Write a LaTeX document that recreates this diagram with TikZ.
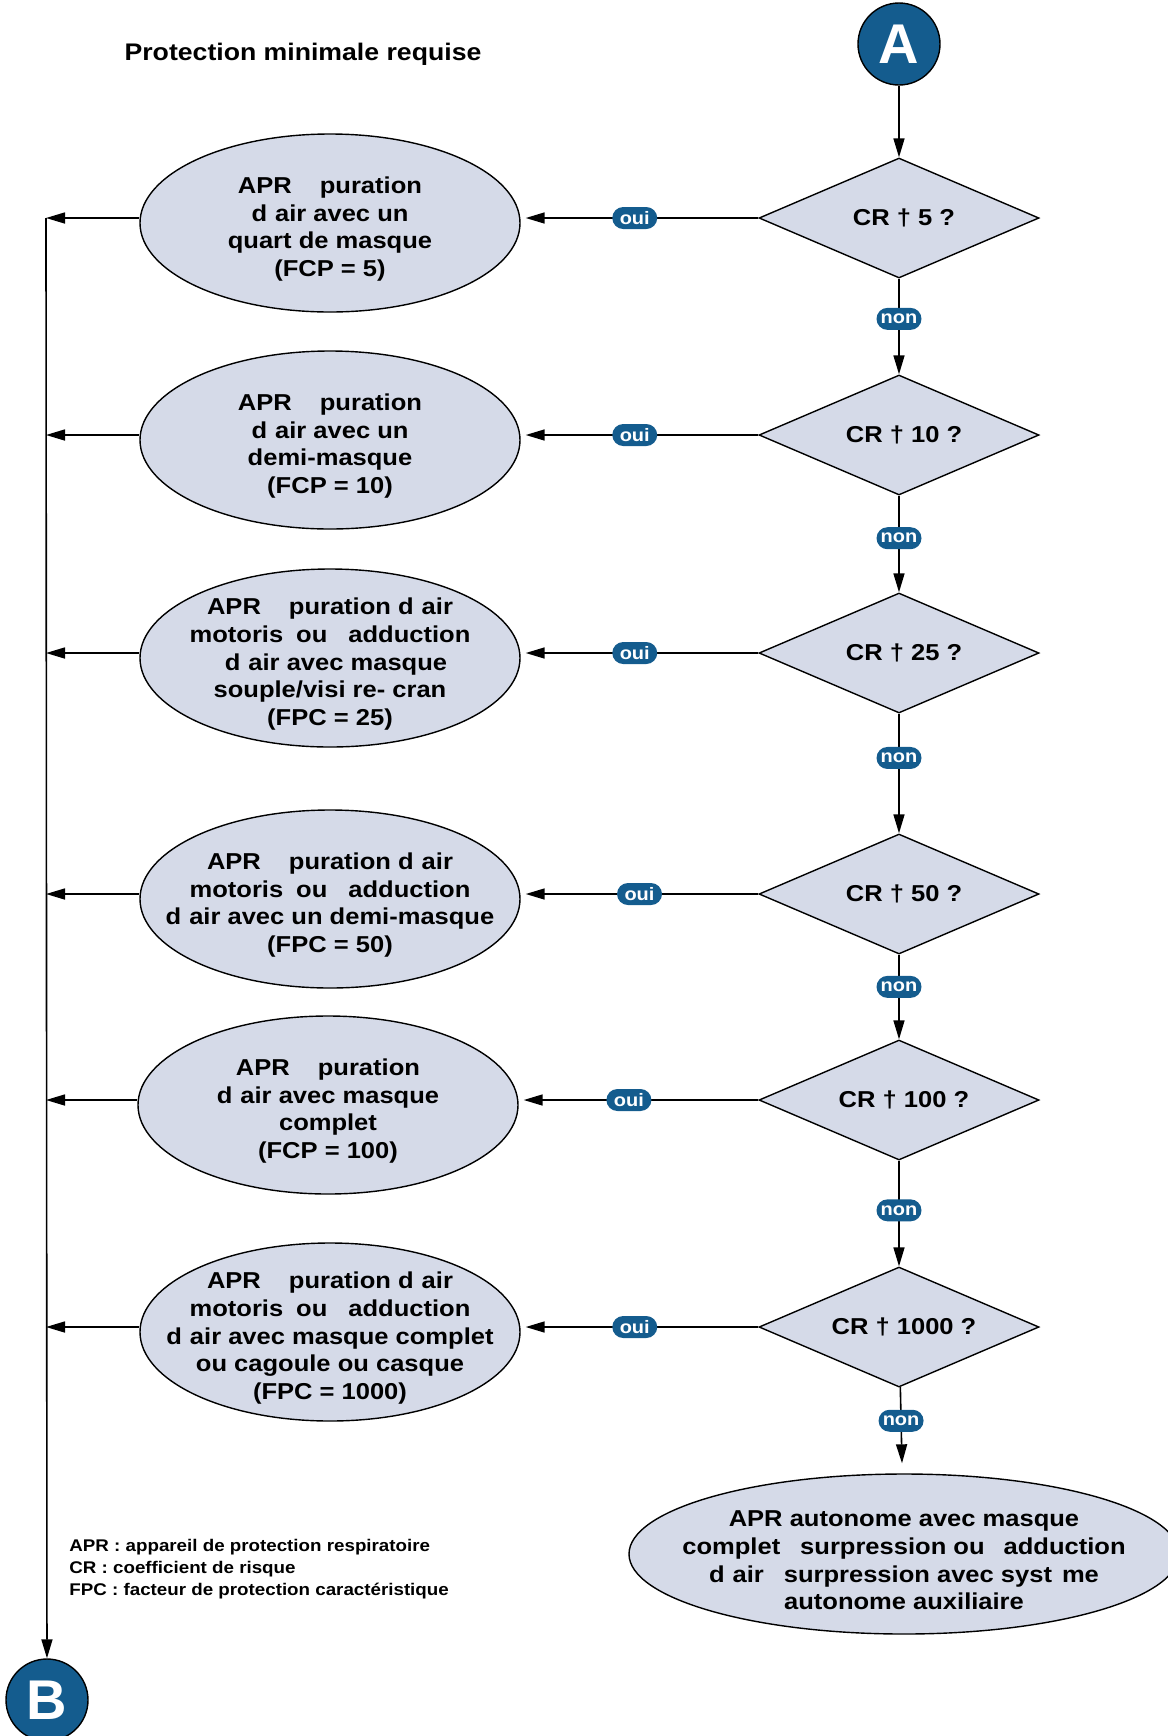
\documentclass[tikz,border=0pt]{standalone}
\usepackage{fontspec}
\setmainfont[FakeStretch=1.11]{Liberation Sans}
\newfontfamily\lettrefont{Liberation Sans}
\usetikzlibrary{shapes.geometric,arrows.meta}

\definecolor{bleuA}{RGB}{20,92,142}
\definecolor{grisE}{RGB}{213,218,232}

\newcommand{\hautligne}{\rule{0pt}{14.4pt}}

\tikzset{
  fleche/.style={line width=0.8pt,-{Triangle[length=9.5pt,width=5.5pt]}},
  bulle/.style={ellipse,draw,line width=0.7pt,fill=grisE,inner xsep=-40pt,inner ysep=-30pt,
    minimum width=190pt,minimum height=89pt,align=center,
    font=\fontsize{11.5}{13.85}\selectfont\bfseries},
  losange/.style={diamond,draw,line width=0.7pt,fill=grisE,inner xsep=-25pt,inner ysep=-4pt,
    minimum width=140pt,minimum height=60pt,font=\fontsize{11.5}{13.85}\selectfont\bfseries},
  rond/.style={circle,draw,line width=0.7pt,fill=bleuA,text=white,minimum size=41pt,inner sep=0pt,
    font=\lettrefont\fontsize{28}{28}\selectfont\bfseries},
  etiq/.style={fill=bleuA,text=white,rounded corners=5.5pt,minimum width=22.5pt,minimum height=11pt,
    inner xsep=2pt,inner ysep=0pt,font=\fontsize{9}{9}\selectfont\bfseries}
}

\begin{document}
\begin{tikzpicture}[x=0.5pt,y=0.5pt,yscale=-1,xscale=1]
            \useasboundingbox (0,0) rectangle (1168,1736);

            \draw (303,54) node [font=\fontsize{12}{14}\selectfont\bfseries] (titre) {Protection minimale requise};
            \draw (899,44) node [rond] (A) {A};
            \draw (47,1700) node [rond] (B) {B};

            \draw (899,218) node [losange] (d1) {\hspace{5pt}CR † 5 ?};
            \draw (899,435) node [losange] (d2) {\hspace{5pt}CR † 10 ?};
            \draw (899,653) node [losange] (d3) {\hspace{5pt}CR † 25 ?};
            \draw (899,894) node [losange] (d4) {\hspace{5pt}CR † 50 ?};
            \draw (899,1100) node [losange] (d5) {\hspace{5pt}CR † 100 ?};
            \draw (899,1327) node [losange] (d6) {\hspace{5pt}CR † 1000 ?};

            \draw (330,223) node [bulle] (e1) {\hautligne APR\hspace{14pt}puration\\d\hspace{4pt}air avec un\\quart de masque\\(FCP = 5)};
            \draw (330,440) node [bulle] (e2) {\hautligne APR\hspace{14pt}puration\\d\hspace{4pt}air avec un\\demi-masque\\(FCP = 10)};
            \draw (330,658) node [bulle] (e3) {\hautligne APR\hspace{14pt}puration d\hspace{4pt}air\\motoris\hspace{6.5pt}ou\hspace{10.5pt}adduction\\\hspace{6pt}d\hspace{4pt}air avec masque\\souple/visi re- cran\\(FPC = 25)};
            \draw (330,899) node [bulle] (e4) {\hautligne APR\hspace{14pt}puration d\hspace{4pt}air\\motoris\hspace{6.5pt}ou\hspace{10.5pt}adduction\\d\hspace{4pt}air avec un demi-masque\\(FPC = 50)};
            \draw (328,1105) node [bulle] (e5) {\hautligne APR\hspace{14pt}puration\\d\hspace{4pt}air avec masque\\complet\\(FCP = 100)};
            \draw (330,1332) node [bulle] (e6) {\hautligne APR\hspace{14pt}puration d\hspace{4pt}air\\motoris\hspace{6.5pt}ou\hspace{10.5pt}adduction\\d\hspace{4pt}air avec masque complet\\ou cagoule ou casque\\(FPC = 1000)};
            \draw (904,1554) node [bulle,minimum width=275pt,minimum height=80pt] (ef) {\hautligne APR autonome avec masque\\complet\hspace{10pt}surpression ou\hspace{9.5pt}adduction\\d\hspace{4pt}air\hspace{10pt}surpression avec syst\hspace{5pt}me\\autonome auxiliaire};

            \draw (69,1569) node [anchor=west,align=left,inner sep=0pt,font=\fontsize{8.45}{11}\selectfont\bfseries] (legende) {APR : appareil de protection respiratoire\\CR : coefficient de risque\\FPC : facteur de protection caractéristique};

            \coordinate (haut) at (46,218);

            \draw [fleche] (A) -- (d1);
            \draw [fleche] (d1) -- node [etiq,pos=0.42] {non} (d2);
            \draw [fleche] (d2) -- node [etiq,pos=0.44] {non} (d3);
            \draw [fleche] (d3) -- node [etiq,pos=0.37] {non} (d4);
            \draw [fleche] (d4) -- node [etiq,pos=0.38] {non} (d5);
            \draw [fleche] (d5) -- node [etiq,pos=0.47] {non} (d6);
            \draw [fleche,shorten >=5pt] (d6) -- node [etiq,pos=0.39] {non} (ef);

            \draw [fleche,shorten >=2.5pt] (d1) -- node [etiq,pos=0.52] {oui} (d1 -| e1.east);
            \draw [fleche,shorten >=2.5pt] (d2) -- node [etiq,pos=0.52] {oui} (d2 -| e2.east);
            \draw [fleche,shorten >=2.5pt] (d3) -- node [etiq,pos=0.52] {oui} (d3 -| e3.east);
            \draw [fleche,shorten >=2.5pt] (d4) -- node [etiq,pos=0.50] {oui} (d4 -| e4.east);
            \draw [fleche,shorten >=2.5pt] (d5) -- node [etiq,pos=0.54] {oui} (d5 -| e5.east);
            \draw [fleche,shorten >=2.5pt] (d6) -- node [etiq,pos=0.52] {oui} (d6 -| e6.east);

            \draw [fleche] (d1 -| e1.west) -- (d1 -| haut);
            \draw [fleche] (d2 -| e2.west) -- (d2 -| haut);
            \draw [fleche] (d3 -| e3.west) -- (d3 -| haut);
            \draw [fleche] (d4 -| e4.west) -- (d4 -| haut);
            \draw [fleche] (d5 -| e5.west) -- (d5 -| haut);
            \draw [fleche] (d6 -| e6.west) -- (d6 -| haut);
            \draw [fleche] (haut) -- (B);
        \end{tikzpicture}
\end{document}
